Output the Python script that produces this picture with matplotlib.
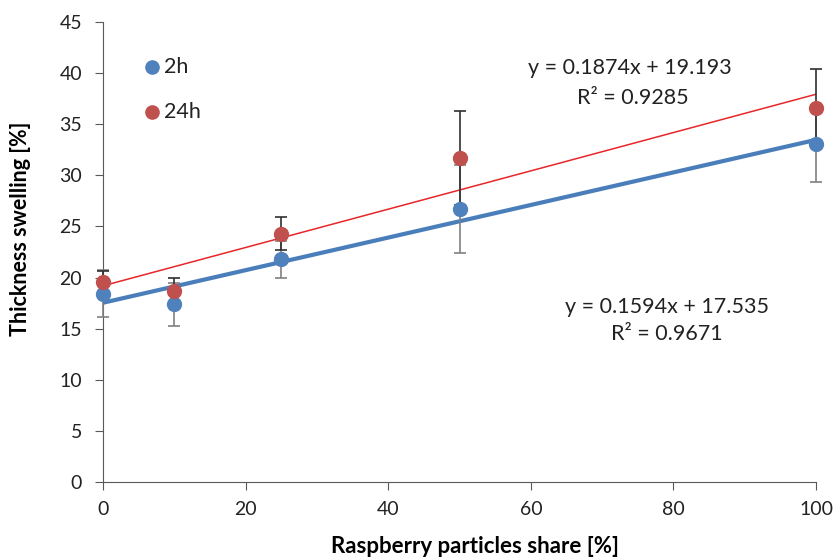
import matplotlib.pyplot as plt
import numpy as np

share = [0, 10, 25, 50, 100]
swell_2h = [18.4, 17.4, 21.8, 26.7, 33.1]
err_2h = [2.3, 2.1, 1.8, 4.3, 3.8]
swell_24h = [19.6, 18.7, 24.3, 31.7, 36.6]
err_24h = [1.0, 1.3, 1.6, 4.6, 3.8]

# trendline coefficients as printed on the chart
fit_2h = (0.1594, 17.535, 0.9671)
fit_24h = (0.1874, 19.193, 0.9285)

plt.rcParams['font.family'] = ['Lato', 'DejaVu Sans']

fig = plt.figure(figsize=(8.39, 5.6), dpi=100)
ax = fig.add_axes([0.1228, 0.1393, 0.8498, 0.8214])

xs = np.array([0, 100])
ax.plot(xs, fit_2h[0] * xs + fit_2h[1], color='#4A7EBB', lw=3, zorder=2)
ax.plot(xs, fit_24h[0] * xs + fit_24h[1], color='#E8262A', lw=1.1, zorder=2)

ax.errorbar(share, swell_2h, yerr=err_2h, fmt='none', ecolor='#808080',
            elinewidth=1.2, capsize=4.5, capthick=1.2, zorder=3, clip_on=False)
ax.errorbar(share, swell_24h, yerr=err_24h, fmt='none', ecolor='#303030',
            elinewidth=1.2, capsize=4.5, capthick=1.2, zorder=3, clip_on=False)

ax.plot(share, swell_2h, 'o', color='#4F81BD', ms=10, zorder=4, clip_on=False)
ax.plot(share, swell_24h, 'o', color='#C0504D', ms=10, zorder=5, clip_on=False)

ax.set_xlim(0, 100)
ax.set_ylim(0, 45)
ax.set_xticks(range(0, 101, 20))
ax.set_yticks(range(0, 46, 5))
ax.spines['top'].set_visible(False)
ax.spines['right'].set_visible(False)
for s in ['left', 'bottom']:
    ax.spines[s].set_color('#595959')
ax.tick_params(direction='out', length=6, color='#595959', labelsize=14,
               labelcolor='#222222')
ax.tick_params(axis='y', pad=9)
ax.tick_params(axis='x', pad=8)

ax.set_xlabel('Raspberry particles share [%]', fontsize=16, fontweight='bold')
ax.set_ylabel('Thickness swelling [%]', fontsize=15.5, fontweight='bold')
ax.xaxis.set_label_coords(0.522, -0.118)
ax.yaxis.set_label_coords(-0.101, 0.55)

# legend drawn like the original (no frame)
ax.plot([6.9], [40.6], 'o', color='#4F81BD', ms=9.5, clip_on=False)
ax.text(8.6, 40.6, '2h', fontsize=15.5, va='center', color='#222222')
ax.plot([6.9], [36.2], 'o', color='#C0504D', ms=9.5, clip_on=False)
ax.text(8.6, 36.2, '24h', fontsize=15.5, va='center', color='#222222')

ax.text(73.9, 40.5, 'y = %.4fx + %.3f' % fit_24h[:2], fontsize=15.5, ha='center', va='center', color='#222222')
ax.text(74.3, 37.6, 'R² = %.4f' % fit_24h[2], fontsize=15.5, ha='center', va='center', color='#222222')
ax.text(79.1, 17.1, 'y = %.4fx + %.3f' % fit_2h[:2], fontsize=15.5, ha='center', va='center', color='#222222')
ax.text(79.1, 14.5, 'R² = %.4f' % fit_2h[2], fontsize=15.5, ha='center', va='center', color='#222222')

fig.savefig('out.png', dpi=100)
